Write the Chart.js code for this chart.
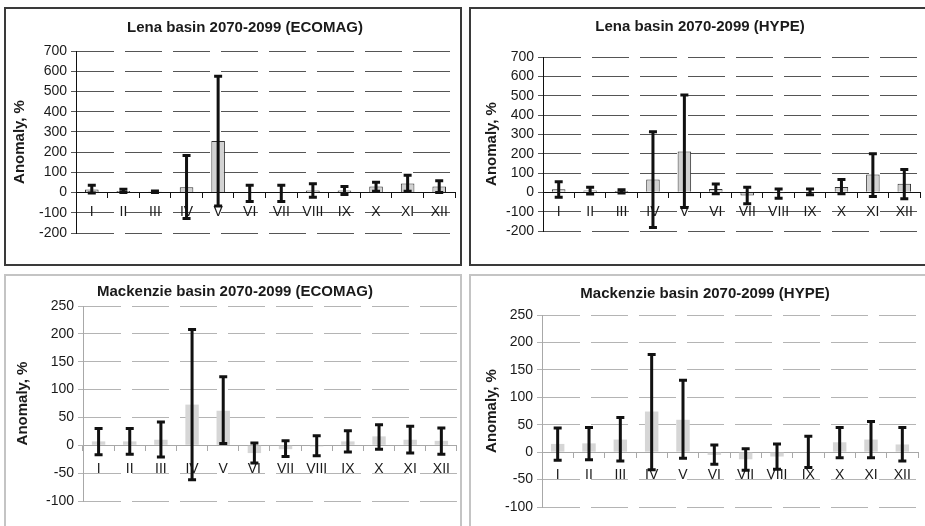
<!DOCTYPE html>
<html>
<head>
<meta charset="utf-8">
<script src="https://cdn.jsdelivr.net/npm/chart.js@4/dist/chart.umd.min.js"></script>
<style>
  body { margin: 0; background: #fff; width: 925px; height: 526px; overflow: hidden; position: relative; }
  .box { position: absolute; box-sizing: border-box; }
  .dark { border: 2px solid #3a3a3a; }
  .light { border: 2px solid #c4c4c4; }
  canvas { position: absolute; }
</style>
</head>
<body>
<div class="box dark" style="left:4px;top:7px;width:458px;height:259px"></div>
<div class="box dark" style="left:469px;top:7px;width:470px;height:259px"></div>
<div class="box light" style="left:4px;top:274px;width:458px;height:270px"></div>
<div class="box light" style="left:469px;top:274px;width:470px;height:270px"></div>

<canvas id="lenaEco" style="left:6px;top:9px" width="454" height="255"></canvas>
<canvas id="lenaHype" style="left:471px;top:9px" width="454" height="255"></canvas>
<canvas id="mackEco" style="left:6px;top:276px" width="454" height="250"></canvas>
<canvas id="mackHype" style="left:471px;top:276px" width="454" height="250"></canvas>

<script>
const months = ['I', 'II', 'III', 'IV', 'V', 'VI', 'VII', 'VIII', 'IX', 'X', 'XI', 'XII'];

const lenaTicks = [-200, -100, 0, 100, 200, 300, 400, 500, 600, 700];
const mackTicks = [-100, -50, 0, 50, 100, 150, 200, 250];

// Lena, ECOMAG
const lenaEcoMean = [15, 8, 4, 26, 255, -2, -2, 10, 10, 30, 45, 30];
const lenaEcoLow = [-2, 0, 0, -128, -66, -44, -44, -23, -10, 7, 7, 0];
const lenaEcoHigh = [36, 16, 8, 183, 575, 36, 36, 44, 30, 51, 86, 58];

// Lena, HYPE
const lenaHypeMean = [16, 10, 7, 67, 211, 17, -17, -5, 2, 28, 92, 45];
const lenaHypeLow = [-26, -9, -3, -182, -78, -7, -59, -31, -12, -7, -21, -33];
const lenaHypeHigh = [55, 26, 14, 313, 503, 43, 26, 17, 17, 66, 199, 118];

// Mackenzie, ECOMAG
const mackEcoMean = [7, 7, 10, 73, 62, -14, -7, -2, 7, 16, 10, 8];
const mackEcoLow = [-17, -16, -21, -62, 3, -32, -20, -19, -12, -7, -14, -16];
const mackEcoHigh = [30, 30, 42, 208, 123, 4, 8, 17, 26, 37, 34, 31];

// Mackenzie, HYPE
const mackHypeMean = [15, 16, 23, 74, 59, -5, -13, -8, 0, 18, 23, 14];
const mackHypeLow = [-15, -14, -16, -32, -11, -22, -33, -31, -28, -10, -10, -16];
const mackHypeHigh = [44, 45, 63, 178, 131, 13, 6, 15, 29, 45, 56, 45];

const FONT = "'Liberation Sans', Arial, sans-serif";

// min/max whiskers on top of the bars
const errorBars = {
  id: 'errorBars',
  afterDatasetsDraw(chart, args, opts) {
    const ctx = chart.ctx;
    const meta = chart.getDatasetMeta(0);
    const y = chart.scales.y;
    ctx.save();
    ctx.strokeStyle = '#111';
    ctx.lineWidth = 3;
    opts.low.forEach(function (lo, i) {
      const x = meta.data[i].x;
      const yLo = y.getPixelForValue(lo);
      const yHi = y.getPixelForValue(opts.high[i]);
      ctx.beginPath();
      ctx.moveTo(x, yLo); ctx.lineTo(x, yHi);
      ctx.moveTo(x - 4, yLo); ctx.lineTo(x + 4, yLo);
      ctx.moveTo(x - 4, yHi); ctx.lineTo(x + 4, yHi);
      ctx.stroke();
    });
    ctx.restore();
  }
};

// p: canvas page rect + wanted plot area / title spots (page px)
function makePanel(id, p) {
  const boxLeft = 2 * p.titleX - p.area.r;
  const lh = 15 * 1.2;
  const titleTop = p.titleY - p.canvas.y - lh / 2;
  const dark = p.dark;
  const gridCol = dark ? '#555' : '#b4b4b4';
  const axisCol = dark ? '#111' : '#a8a8a8';

  new Chart(document.getElementById(id), {
    type: 'bar',
    data: {
      labels: months,
      datasets: [{
        data: p.mean,
        backgroundColor: dark ? '#d2d2d2' : '#d6d6d6',
        borderColor: '#333',
        borderWidth: dark ? 1 : 0,
        categoryPercentage: 1,
        barPercentage: 0.43
      }]
    },
    options: {
      responsive: false,
      animation: false,
      layout: {
        padding: {
          left: boxLeft - p.canvas.x,
          right: p.canvas.x + p.canvas.w - p.area.r,
          top: 0,
          bottom: p.canvas.y + p.canvas.h - p.area.b
        }
      },
      plugins: {
        legend: { display: false },
        tooltip: { enabled: false },
        title: {
          display: true,
          text: p.title,
          color: '#1a1a1a',
          font: { family: FONT, size: 15, weight: 'bold' },
          padding: { top: titleTop, bottom: p.area.t - p.canvas.y - titleTop - lh }
        },
        errorBars: { low: p.low, high: p.high }
      },
      scales: {
        x: {
          position: { y: 0 },
          afterFit: function (s) { s.height = 0; },
          grid: { drawOnChartArea: false, drawTicks: true, tickLength: 5, color: axisCol, offset: true },
          border: { display: true, color: axisCol, width: 1 },
          ticks: {
            autoSkip: false, maxRotation: 0, padding: p.labelPad, color: '#1a1a1a',
            font: { family: FONT, size: 14 }
          }
        },
        y: {
          min: p.ticks[0],
          max: p.ticks[p.ticks.length - 1],
          afterFit: function (s) { s.width = p.area.l - boxLeft; },
          afterBuildTicks: function (s) { s.ticks = p.ticks.map(function (v) { return { value: v }; }); },
          grid: { color: gridCol, lineWidth: 1, drawTicks: true, tickLength: 5 },
          border: { display: true, color: axisCol, width: 1, dash: [37, 11] },
          ticks: { autoSkip: false, padding: 4, color: '#1a1a1a', font: { family: FONT, size: 14 } },
          title: {
            display: true,
            text: 'Anomaly, %',
            color: '#1a1a1a',
            font: { family: FONT, size: 15, weight: 'bold' },
            padding: { top: p.yTitleX - boxLeft - 9, bottom: 0 }
          }
        }
      }
    },
    plugins: [errorBars]
  });
}

makePanel('lenaEco', {
  title: 'Lena basin 2070-2099 (ECOMAG)', dark: true,
  mean: lenaEcoMean, low: lenaEcoLow, high: lenaEcoHigh, ticks: lenaTicks,
  canvas: { x: 6, y: 9, w: 454, h: 255 },
  area: { l: 76, r: 455, t: 51, b: 233 },
  titleX: 245, titleY: 28, yTitleX: 20, labelPad: 6
});
makePanel('lenaHype', {
  title: 'Lena basin 2070-2099 (HYPE)', dark: true,
  mean: lenaHypeMean, low: lenaHypeLow, high: lenaHypeHigh, ticks: lenaTicks,
  canvas: { x: 471, y: 9, w: 454, h: 255 },
  area: { l: 543, r: 920, t: 57, b: 231 },
  titleX: 700, titleY: 27, yTitleX: 492, labelPad: 6
});
makePanel('mackEco', {
  title: 'Mackenzie basin 2070-2099 (ECOMAG)', dark: false,
  mean: mackEcoMean, low: mackEcoLow, high: mackEcoHigh, ticks: mackTicks,
  canvas: { x: 6, y: 276, w: 454, h: 250 },
  area: { l: 83, r: 458, t: 306, b: 501 },
  titleX: 235, titleY: 292, yTitleX: 23, labelPad: 10
});
makePanel('mackHype', {
  title: 'Mackenzie basin 2070-2099 (HYPE)', dark: false,
  mean: mackHypeMean, low: mackHypeLow, high: mackHypeHigh, ticks: mackTicks,
  canvas: { x: 471, y: 276, w: 454, h: 250 },
  area: { l: 542, r: 918, t: 315, b: 507 },
  titleX: 705, titleY: 294, yTitleX: 492, labelPad: 10
});
</script>
</body>
</html>
